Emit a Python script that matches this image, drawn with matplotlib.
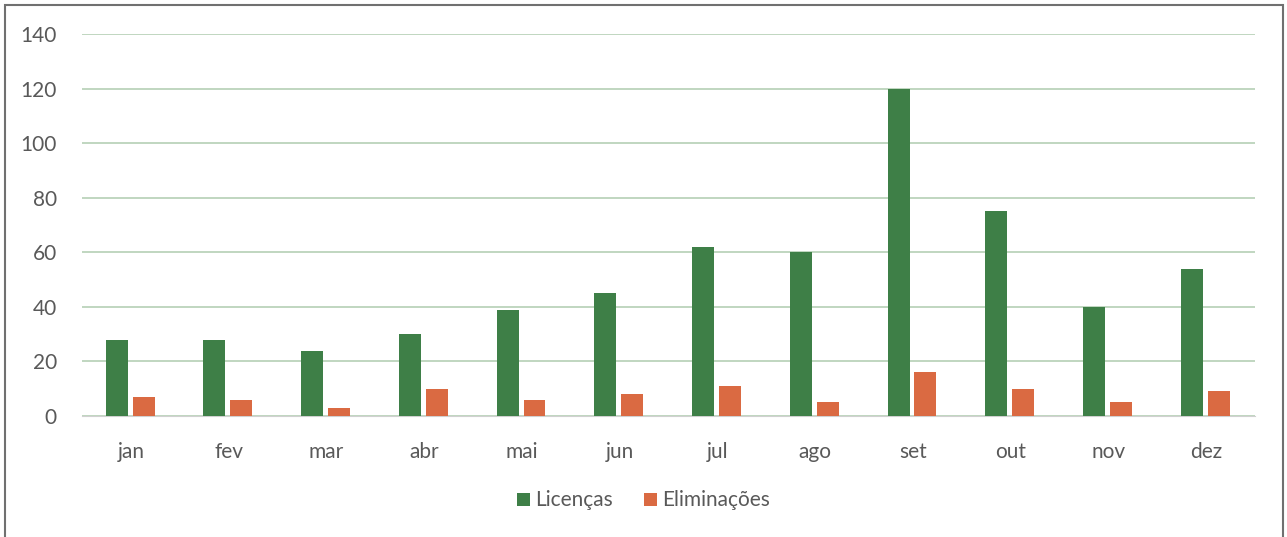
import numpy as np
import matplotlib.pyplot as plt
from matplotlib.patches import Rectangle

months = ['jan', 'fev', 'mar', 'abr', 'mai', 'jun', 'jul', 'ago', 'set', 'out', 'nov', 'dez']
licencas = [28, 28, 24, 30, 39, 45, 62, 60, 120, 75, 40, 54]
eliminacoes = [7, 6, 3, 10, 6, 8, 11, 5, 16, 10, 5, 9]

green = '#3e7f47'
orange = '#da6a42'
txt = '#595959'

plt.rcParams['font.family'] = ['Lato', 'DejaVu Sans']

fig = plt.figure(figsize=(12.87, 5.37), dpi=100)
ax = fig.add_axes([0.0637, 0.2253, 0.9113, 0.7114])

x = np.arange(len(months))
w = 0.225
ax.bar(x - 0.145, licencas, w, color=green, label='Licenças', zorder=3)
ax.bar(x + 0.13, eliminacoes, w, color=orange, label='Eliminações', zorder=3)

ax.set_xlim(-0.5, len(months) - 0.5)
ax.set_ylim(0, 140)
ax.set_yticks(range(0, 141, 20))
ax.yaxis.grid(True, color='#b5cfb5', linewidth=1.2, zorder=0)
ax.set_axisbelow(True)
for s in ['top', 'right', 'left']:
    ax.spines[s].set_visible(False)
ax.spines['bottom'].set_color('#d0d0d0')
ax.set_xticks(x)
ax.set_xticklabels(months)
ax.tick_params(axis='both', length=0, labelsize=15, colors=txt)
ax.tick_params(axis='x', pad=19)
ax.tick_params(axis='y', pad=18)

leg = fig.legend(loc='center', bbox_to_anchor=(0.5, 0.068), ncol=2, frameon=False,
                 fontsize=15, handlelength=0.6, handleheight=0.6, handletextpad=0.25,
                 columnspacing=1.5)
for t in leg.get_texts():
    t.set_color(txt)

fig.patches.append(Rectangle((0.004, -0.05), 0.993, 1.04, transform=fig.transFigure,
                             fill=False, edgecolor='#707070', linewidth=1.5))

fig.savefig('out.png', dpi=100)
